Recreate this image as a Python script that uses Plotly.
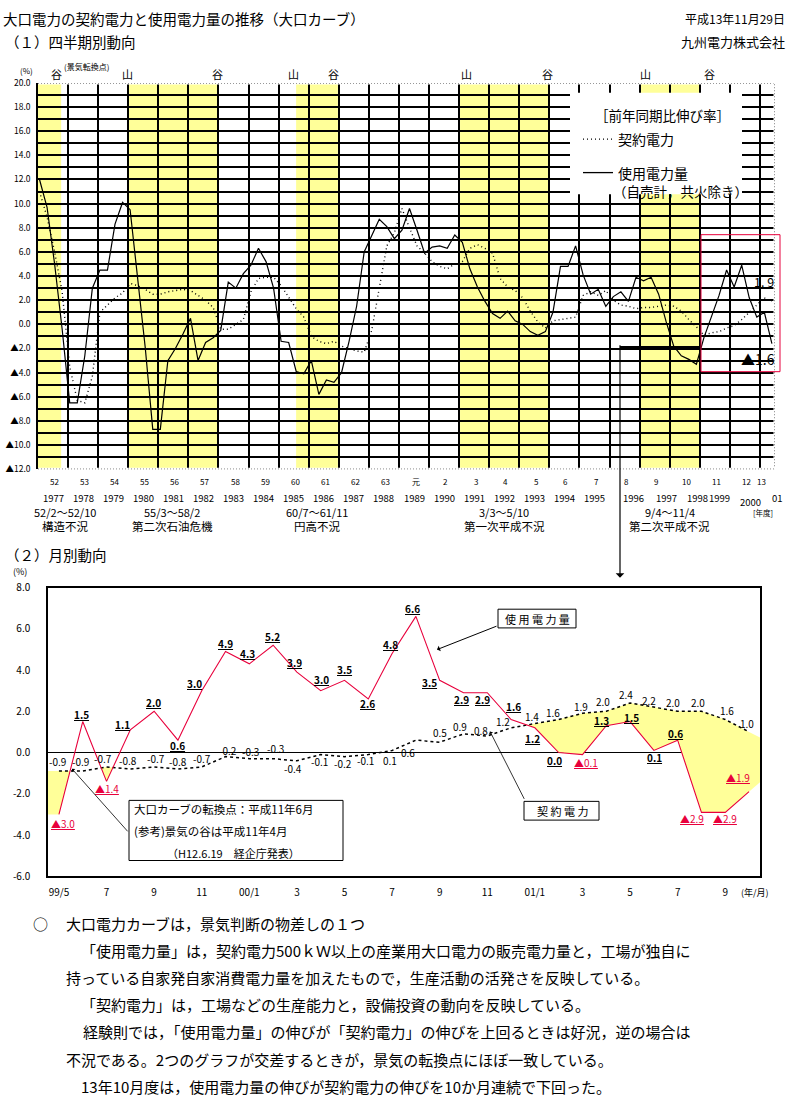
import plotly.graph_objects as go

W, H = 790, 1106
FONT = "Noto Sans CJK JP"
RED = "#E8003C"
YEL = "#FFFF99"


def px(x):
    return x / W


def py(y):
    return 1 - y / H


# ---------------- data: quarterly (FY1977 Q1 .. FY2001 Q2), % y/y ----------------
usage_q = [12.0, 9.7, 5.0, -0.4, -6.5, -6.5, -2.6, 3.0,
           4.5, 4.5, 8.3, 10.1, 9.5, 4.0, -1.9, -8.7,
           -8.7, -3.0, -2.0, -0.8, 0.5, -3.0, -1.5, -1.1,
           -0.5, 3.5, 3.0, 4.2, 4.9, 6.3, 5.2, 3.0,
           -1.4, -1.5, -3.9, -4.1, -3.0, -5.8, -4.6, -4.8,
           -4.0, -1.4, 1.5, 6.0, 7.3, 8.7, 8.1, 7.1,
           7.8, 9.6, 7.8, 5.9, 6.4, 6.5, 6.3, 7.4,
           6.8, 4.6, 3.1, 1.9, 0.9, 0.5, 1.1, 0.3,
           0.0, -0.6, -0.9, -0.6, 1.0, 4.8, 4.8, 6.5,
           4.1, 2.5, 2.9, 1.5, 2.3, 2.7, 1.9, 3.9,
           3.6, 3.9, 2.5, 0.2, -1.8, -2.6, -2.9, -3.3,
           -1.1, 0.6, 2.4, 4.5, 3.1, 4.9, 2.2, 0.6,
           1.0, -1.6]
contract_q = [11.0, 8.9, 6.0, 2.7, -3.5, -6.3, -6.5, -4.3,
              1.0, 1.6, 2.2, 2.6, 3.4, 3.2, 2.9, 2.5,
              2.5, 2.7, 2.8, 2.9, 2.8, 2.4, 2.0, 1.4,
              -0.4, -0.4, 0.0, 0.4, 2.7, 3.8, 3.9, 3.9,
              3.2, 2.2, 1.3, 0.6, -1.0, -1.4, -1.6, -1.4,
              -1.8, -2.0, -2.2, -2.3, -0.5, 3.0, 6.5, 7.6,
              9.6, 8.0, 6.5, 5.9, 5.2, 4.8, 4.6, 5.0,
              5.2, 6.3, 6.6, 6.3, 5.9, 3.8, 3.1, 2.8,
              2.2, 1.1, 0.2, -0.3, 0.3, 0.4, 0.5, 0.6,
              2.4, 2.7, 2.4, 2.8, 2.0, 1.6, 1.5, 1.3,
              1.4, 1.4, 1.5, 1.6, 1.5, 1.1, 0.4, -0.2,
              -0.9, -0.7, -0.6, -0.3, -0.1, 0.4, 1.0, 1.6,
              2.2, 1.9]

era_labels = ["52", "53", "54", "55", "56", "57", "58", "59", "60", "61", "62", "63",
              "元", "2", "3", "4", "5", "6", "7", "8", "9", "10", "11", "12", "13"]
year_labels = ["1977", "1978", "1979", "1980", "1981", "1982", "1983", "1984", "1985",
               "1986", "1987", "1988", "1989", "1990", "1991", "1992", "1993", "1994",
               "1995", "1996", "1997", "1998", "1999", "2000", "01"]
recess_start = [0.0, 2.96, 8.58, 14.03, 20.01]
recess_end = [0.77, 5.95, 9.97, 16.96, 21.98]
recess_period = ["52/2～52/10", "55/3～58/2", "60/7～61/11", "3/3～5/10", "9/4～11/4"]
recess_name = ["構造不況", "第二次石油危機", "円高不況", "第一次平成不況", "第二次平成不況"]
turn_labels = ["谷", "山", "谷", "山", "谷", "山", "谷", "山", "谷"]
turn_t = [0.63, 2.99, 5.98, 8.48, 9.81, 14.26, 16.95, 20.21, 22.31]

# ---------------- data: monthly (1999/5 .. 2001/10) ----------------
usage_m = [-3.0, 1.5, -1.4, 1.1, 2.0, 0.6, 3.0, 4.9, 4.3, 5.2, 3.9, 3.0, 3.5, 2.6, 4.8,
           6.6, 3.5, 2.9, 2.9, 1.6, 1.2, 0.0, -0.1, 1.3, 1.5, 0.1, 0.6, -2.9, -2.9, -1.9]
contract_m = [-0.9, -0.9, -0.7, -0.8, -0.7, -0.8, -0.7, -0.2, -0.3, -0.3, -0.4, -0.1, -0.2,
              -0.1, 0.1, 0.6, 0.5, 0.9, 0.8, 1.2, 1.4, 1.6, 1.9, 2.0, 2.4, 2.2, 2.0, 2.0, 1.6, 1.0]
month_ticks = ["99/5", "7", "9", "11", "00/1", "3", "5", "7", "9", "11", "01/1", "3", "5", "7", "9"]

# label offsets (pixels, dx right, dy down) -- placement only
usage_off = [(4, 9), (-1, -7), (0, 7), (-8, -5), (-1, -9), (0, 5), (-7, -7), (0, -8), (-2, -10),
             (-1, -9), (-2, -10), (1, -11), (0, -11), (-1, 5), (-2, -9), (-3, -8), (-10, 2),
             (-2, 7), (-5, 7), (2, -13), (-2, 11), (-4, 8), (4, 8), (-5, -5), (1, -4), (1, 7),
             (-2, -7), (-9, 6), (0, 6), (-11, -14)]
contract_off = [(-1, -10), (-2, -10), (-4, -8), (-2, -9), (2, -8), (0, -8), (0, -8), (2, -6),
                (1, -7), (2, -10), (-4, 8), (-1, 7), (-2, 7), (-3, 6), (-2, 10), (-8, 12),
                (0, -10), (-3, -7), (-6, -6), (-8, -6), (-3, -7), (-6, -7), (-1, -7), (-3, -10),
                (-4, -9), (-5, -7), (-5, -9), (-3, -9), (2, -9), (-2, -8)]

fig = go.Figure()

# ---------------- top chart ----------------
XMAX_TOP = 24.5
tq = [0.05 + 0.251 * i for i in range(len(usage_q))]
fig.add_trace(go.Scatter(x=tq, y=contract_q, mode="lines", xaxis="x", yaxis="y",
                         line=dict(color="black", width=1.4, dash="1px,3px"), hoverinfo="skip"))
fig.add_trace(go.Scatter(x=tq, y=usage_q, mode="lines", xaxis="x", yaxis="y",
                         line=dict(color="black", width=1.2), hoverinfo="skip"))

shapes = []
for a, b in zip(recess_start, recess_end):
    shapes.append(dict(type="rect", xref="x", yref="y", x0=a, x1=b, y0=-12, y1=20,
                       fillcolor=YEL, line=dict(width=0), layer="below"))
# dotted frame (top/right/bottom)
for (x0, y0, x1, y1) in [(0, 20, XMAX_TOP, 20), (XMAX_TOP, -12, XMAX_TOP, 20), (0, -12, XMAX_TOP, -12)]:
    shapes.append(dict(type="line", xref="x", yref="y", x0=x0, y0=y0, x1=x1, y1=y1,
                       line=dict(color="white", width=3), layer="above"))
    shapes.append(dict(type="line", xref="x", yref="y", x0=x0, y0=y0, x1=x1, y1=y1,
                       line=dict(color="black", width=1, dash="1px,2px"), layer="above"))
# legend white box
shapes.append(dict(type="rect", xref="paper", yref="paper", x0=px(570), x1=px(742),
                   y0=py(188), y1=py(85), fillcolor="white", line=dict(width=0), layer="above"))
shapes.append(dict(type="line", xref="paper", yref="paper", x0=px(583), x1=px(612),
                   y0=py(132), y1=py(132), line=dict(color="black", width=1.2, dash="1px,3px"),
                   layer="above"))
shapes.append(dict(type="line", xref="paper", yref="paper", x0=px(583), x1=px(613),
                   y0=py(166), y1=py(166), line=dict(color="black", width=1.3), layer="above"))
# red box and bracket
shapes.append(dict(type="rect", xref="paper", yref="paper", x0=px(701), x1=px(780),
                   y0=py(368), y1=py(229), line=dict(color=RED, width=1), layer="above"))
shapes.append(dict(type="line", xref="paper", yref="paper", x0=px(620), x1=px(700),
                   y0=py(343), y1=py(343), line=dict(color="black", width=2), layer="above"))

ann = []


def txt(x, y, s, size=12, anchor="center", color="black", yanchor="middle"):
    ann.append(dict(x=px(x), y=py(y), xref="paper", yref="paper", text=s, showarrow=False,
                    xanchor=anchor, yanchor=yanchor, borderpad=0,
                    font=dict(size=size, color=color, family=FONT)))


def t2px(t):
    # top-chart x value -> page pixel (for labels that sit outside the axis range)
    return 38 + (775 - 38) * t / XMAX_TOP


# titles
txt(2, 10, "大口電力の契約電力と使用電力量の推移（大口カーブ）", 14.5, "left")
txt(4, 33, "（１）四半期別動向", 14.5, "left")
txt(786, 10, "平成13年11月29日", 12, "right")
txt(786, 33, "九州電力株式会社", 13, "right")
txt(26, 62, "(%)", 8)
txt(86, 58, "(景気転換点)", 8)
for lab, t in zip(turn_labels, turn_t):
    ann.append(dict(x=t, y=20, xref="x", yref="y", text=lab, showarrow=False, borderpad=0,
                    yanchor="bottom", yshift=0, font=dict(size=11, family=FONT, color="black")))

# legend text
txt(662, 108, "［前年同期比伸び率］", 13.5)
txt(617, 132, "契約電力", 14, "left")
txt(617, 166, "使用電力量", 14, "left")
txt(612, 185, "（自売計，共火除き）", 13.5, "left")
txt(764, 277, "1. 9", 12.5)
txt(758, 355, "▲1.6", 14)

# x labels top chart
for k, lab in enumerate(era_labels):
    t = k + 0.55 if k < 24 else 24.05
    txt(t2px(t), 479, lab, 8)
year_shift = {19: 0.28, 20: 0.4, 21: 0.44, 22: 0.17, 23: 0.2, 24: 0.07}
for k, lab in enumerate(year_labels):
    t = k + 0.5 + year_shift.get(k, 0)
    yy = 500 if lab == "2000" else 496
    txt(t2px(t), yy, lab, 9.5)
for a, b, per, name in zip(recess_start, recess_end, recess_period, recess_name):
    c = (a + b) / 2
    if b - a < 1:
        c = a + 0.9
    txt(t2px(c), 510, per, 11)
    txt(t2px(c), 525, name, 11.5)
txt(763, 511, "[年度]", 7.5)

# arrow from bracket down to monthly chart
ann.append(dict(x=px(620), y=py(577), xref="paper", yref="paper", text="", showarrow=True,
                ax=0, ay=-(577 - 343), arrowhead=1, arrowwidth=1.2, arrowsize=1.2,
                arrowcolor="black"))

# ---------------- bottom chart ----------------
txt(4, 553, "（２）月別動向", 14.5, "left")
txt(20, 571, "(%)", 9)

months = list(range(len(usage_m)))
x_lo, x_hi = -0.46, len(usage_m) - 1 + 0.46
ext_x = [x_lo] + months + [x_hi]
ext_c = [contract_m[0]] + contract_m + [contract_m[-1] + (contract_m[-1] - contract_m[-2]) * (x_hi - months[-1])]
ext_u = [usage_m[0]] + usage_m + [usage_m[-1] + (usage_m[-1] - usage_m[-2]) * (x_hi - months[-1])]


def deficit_regions(xs, up, lo):
    regions, cur = [], None
    n = len(xs)
    for k in range(n):
        d = up[k] - lo[k]
        if d > 0:
            if cur is None:
                cur = []
            cur.append((xs[k], up[k], lo[k]))
        if k < n - 1:
            d1 = up[k + 1] - lo[k + 1]
            if (d > 0) != (d1 > 0):
                f = d / (d - d1)
                xc = xs[k] + f * (xs[k + 1] - xs[k])
                yc = up[k] + f * (up[k + 1] - up[k])
                if cur is None:
                    cur = [(xc, yc, yc)]
                else:
                    cur.append((xc, yc, yc))
                    regions.append(cur)
                    cur = None
    if cur:
        regions.append(cur)
    return regions


for reg in deficit_regions(ext_x, ext_c, ext_u):
    xs = [p[0] for p in reg] + [p[0] for p in reversed(reg)]
    ys = [p[1] for p in reg] + [p[2] for p in reversed(reg)]
    fig.add_trace(go.Scatter(x=xs, y=ys, mode="lines", fill="toself", fillcolor=YEL,
                             line=dict(width=0), xaxis="x2", yaxis="y2", hoverinfo="skip"))

fig.add_trace(go.Scatter(x=months, y=contract_m, mode="lines", xaxis="x2", yaxis="y2",
                         line=dict(color="black", width=1.5, dash="dot"), hoverinfo="skip"))
fig.add_trace(go.Scatter(x=months, y=usage_m, mode="lines", xaxis="x2", yaxis="y2",
                         line=dict(color=RED, width=1.1), hoverinfo="skip"))

for m, v, (dx, dy) in zip(months, usage_m, usage_off):
    if v < 0:
        s, col = "<u>▲%.1f</u>" % abs(v), RED
    else:
        s, col = "<u><b>%.1f</b></u>" % v, "black"
    ann.append(dict(x=m, y=v, xref="x2", yref="y2", text=s, showarrow=False, borderpad=0,
                    xshift=dx, yshift=-dy, font=dict(size=10, color=col, family=FONT)))
for m, v, (dx, dy) in zip(months, contract_m, contract_off):
    ann.append(dict(x=m, y=v, xref="x2", yref="y2", text="%.1f" % v, showarrow=False,
                    borderpad=0, xshift=dx, yshift=-dy,
                    font=dict(size=10, color="black", family=FONT)))

# callout boxes
shapes.append(dict(type="rect", xref="paper", yref="paper", x0=px(498), x1=px(576),
                   y0=py(628), y1=py(609), line=dict(color="black", width=1), fillcolor="white"))
txt(537, 619, "使 用 電 力 量", 11)
ann.append(dict(x=px(437), y=py(650), xref="paper", yref="paper", text="", showarrow=True,
                ax=61, ay=-24, arrowhead=1, arrowwidth=1, arrowcolor="black"))
shapes.append(dict(type="rect", xref="paper", yref="paper", x0=px(524), x1=px(599),
                   y0=py(823), y1=py(804), line=dict(color="black", width=1), fillcolor="white"))
txt(562, 814, "契 約 電 力", 11)
ann.append(dict(x=px(490), y=py(733), xref="paper", yref="paper", text="", showarrow=True,
                ax=35, ay=69, arrowhead=1, arrowwidth=0.8, arrowcolor="black"))
shapes.append(dict(type="rect", xref="paper", yref="paper", x0=px(129), x1=px(343),
                   y0=py(864), y1=py(803), line=dict(color="black", width=1), fillcolor="white"))
txt(133, 812, "大口カーブの転換点：平成11年6月", 11.5, "left")
txt(133, 834, "(参考)景気の谷は平成11年4月", 11.5, "left")
txt(166, 856, "（H12.6.19　経企庁発表）", 11, "left")
ann.append(dict(x=px(72), y=py(771), xref="paper", yref="paper", text="", showarrow=True,
                ax=57, ay=64, arrowhead=1, arrowwidth=0.8, arrowcolor="black"))
txt(755, 896, "(年/月)", 9)

# body text
body = [
    (65, "大口電力カーブは，景気判断の物差しの１つ"),
    (80, "「使用電力量」は，契約電力500ｋＷ以上の産業用大口電力の販売電力量と，工場が独自に"),
    (65, "持っている自家発自家消費電力量を加えたもので，生産活動の活発さを反映している。"),
    (80, "「契約電力」は，工場などの生産能力と，設備投資の動向を反映している。"),
    (82, "経験則では，「使用電力量」の伸びが「契約電力」の伸びを上回るときは好況，逆の場合は"),
    (65, "不況である。2つのグラフが交差するときが，景気の転換点にほぼ一致している。"),
    (80, "13年10月度は，使用電力量の伸びが契約電力の伸びを10か月連続で下回った。"),
]
txt(40, 928, "○", 15)
for k, (x0, s) in enumerate(body):
    txt(x0, 928 + 27.5 * k, s, 15, "left")

ytop_vals = list(range(-12, 21, 2))
ytop_text = [("%.1f" % v) if v >= 0 else ("▲%.1f" % abs(v)) for v in ytop_vals]
ybot_vals = list(range(-6, 9, 2))

fig.update_layout(
    width=W, height=H, margin=dict(l=0, r=0, t=0, b=0),
    paper_bgcolor="white", plot_bgcolor="white", showlegend=False,
    font=dict(family=FONT, color="black"),
    xaxis=dict(domain=[px(38), px(775)], range=[0, XMAX_TOP], tickvals=list(range(0, 25)),
               showticklabels=False, showgrid=True, gridcolor="black", gridwidth=1.5,
               zeroline=False, showline=False, ticks="", fixedrange=True),
    yaxis=dict(domain=[py(467), py(75)], range=[-12, 20], tickvals=ytop_vals, ticktext=ytop_text,
               showgrid=True, gridcolor="black", gridwidth=1.5,
               minor=dict(dtick=1, showgrid=True, gridcolor="black", gridwidth=1.5),
               zeroline=False, showline=True, linecolor="black", linewidth=1.5, ticks="",
               tickfont=dict(size=8.5, family=FONT), ticklabelstandoff=4),
    xaxis2=dict(domain=[px(48), px(760)], range=[x_lo, x_hi], tickvals=list(range(0, 30, 2)),
                ticktext=month_ticks, showgrid=False, zeroline=False, showline=True, mirror=True,
                linecolor="black", linewidth=1.5, ticks="", tickfont=dict(size=10, family=FONT),
                ticklabelstandoff=6, anchor="y2"),
    yaxis2=dict(domain=[py(880), py(587)], range=[-6, 8], tickvals=ybot_vals,
                ticktext=["%.1f" % v for v in ybot_vals], showgrid=False, zeroline=True,
                zerolinecolor="black", zerolinewidth=1.2, showline=True, mirror=True,
                linecolor="black", linewidth=1.5, ticks="", tickfont=dict(size=10, family=FONT),
                ticklabelstandoff=14, anchor="x2"),
    shapes=shapes, annotations=ann,
)

fig.write_html("out.html")
